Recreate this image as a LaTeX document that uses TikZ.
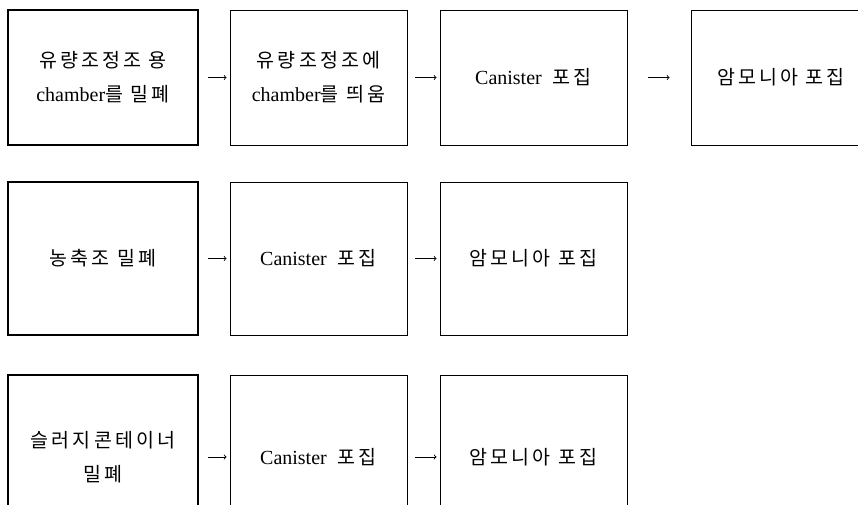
\documentclass[tikz,border=0pt]{standalone}
\usepackage{fontspec}
\setmainfont{Liberation Serif}
\newfontfamily\krfont{Noto Sans CJK KR}[LetterSpace=16]
\usetikzlibrary{positioning}
\newcommand{\hg}[1]{{\krfont\fontsize{19.5}{34}\selectfont #1}}

\tikzset{
  box/.style = {draw, line width = .9pt, align = center, inner sep = 0pt,
    font = \fontsize{20}{34}\selectfont},
  heavy/.style = {line width = 2.4pt},
  flow/.style = {->, line width = .9pt, shorten <= 9pt, shorten >= 3pt}
}

\begin{document}
\begin{tikzpicture}[x = 1pt, y = -1pt]
  \useasboundingbox (0,0) rectangle (858,504);
  % first row
  \node (a1) at (103,77.5) [box, heavy, minimum width = 190pt, minimum height = 135pt] {\hg{유량조정조 용}\\chamber\hg{를 밀폐}};
  \node (b1) at (318.5,77.5) [box, minimum width = 177pt, minimum height = 135pt] {\hg{유량조정조에}\\chamber\hg{를 띄움}};
  \node (c1) at (533.5,77.5) [box, minimum width = 187pt, minimum height = 135pt] {Canister\hspace{11pt}\hg{포집}};
  \node (d1) at (791,77.5) [box, minimum width = 200pt, minimum height = 135pt] {\hg{암모니아 포집}\hspace{20pt}};
  % second row
  \node (a2) at (103,258.5) [box, heavy, minimum width = 190pt, minimum height = 153pt] {\hg{농축조 밀폐}};
  \node (b2) at (318.5,258.5) [box, minimum width = 177pt, minimum height = 153pt] {Canister\hspace{11pt}\hg{포집}};
  \node (c2) at (533.5,258.5) [box, minimum width = 187pt, minimum height = 153pt] {\hg{암모니아 포집}};
  % third row
  \node (a3) at (103,457) [box, heavy, minimum width = 190pt, minimum height = 164pt] {\hg{슬러지콘테이너}\\\hg{밀폐}};
  \node (b3) at (318.5,457) [box, minimum width = 177pt, minimum height = 164pt] {Canister\hspace{11pt}\hg{포집}};
  \node (c3) at (533.5,457) [box, minimum width = 187pt, minimum height = 164pt] {\hg{암모니아 포집}};
  \draw [flow] (a1) -- (b1);
  \draw [flow, shorten <= 8pt] (b1) -- (c1);
  \draw [flow, shorten <= 21pt, shorten >= 21pt] (c1) -- (d1);
  \draw [flow] (a2) -- (b2);
  \draw [flow, shorten <= 8pt] (b2) -- (c2);
  \draw [flow] (a3) -- (b3);
  \draw [flow, shorten <= 8pt] (b3) -- (c3);
\end{tikzpicture}
\end{document}
